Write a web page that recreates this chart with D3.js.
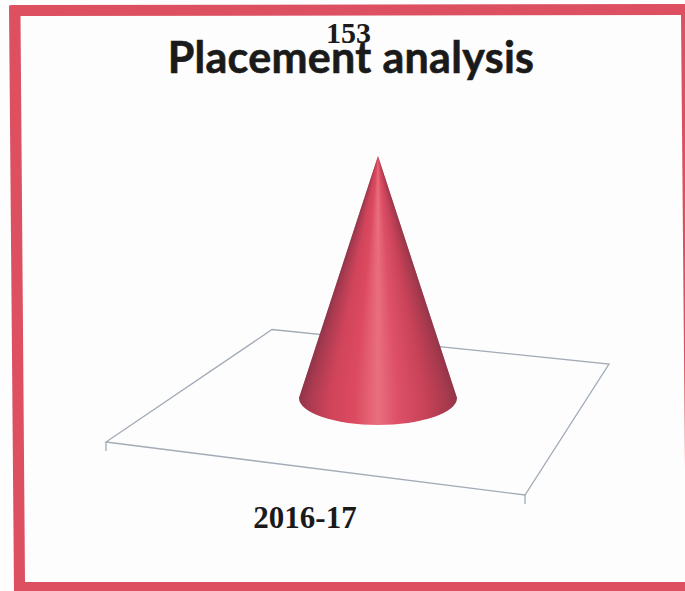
<!DOCTYPE html>
<html>
<head>
<meta charset="utf-8">
<script src="https://cdn.jsdelivr.net/npm/d3@7"></script>
<style>
  html, body { margin: 0; padding: 0; background: #fff; }
  svg { display: block; }
</style>
</head>
<body>
<svg id="chart" width="685" height="591"></svg>
<script>
var categories = ["2016-17"];
var values = [153];
var chartTitle = "Placement analysis";

var svg = d3.select("#chart");
var defs = svg.append("defs");

// dark edges, pale streak down the middle
var grad = defs.append("linearGradient").attr("id", "coneFill");
[[0, "#8f3448"], [0.06, "#a83a50"], [0.2, "#d0445a"], [0.35, "#dc4a60"], [0.5, "#e96f7e"], [0.62, "#de5168"], [0.8, "#c84258"], [0.93, "#a93a4e"], [1, "#923548"]]
  .forEach(function(s) {
    grad.append("stop").attr("offset", s[0]).attr("stop-color", s[1]);
  });

svg.append("rect")
  .attr("width", 685).attr("height", 591).attr("fill", "#fdfdfd");

// the border is a bit skewed in the scan, so draw it as a ring and not a rect
svg.append("path")
  .attr("d", "M9,6Q9,5 12,5L685,4L685,591L14,591Z M20.5,16L681,15L686,582L25,582Z")
  .attr("fill", "#dc5062")
  .attr("fill-rule", "evenodd");

// floor of the 3d plot: front left, front right, back right, back left
var floorCorners = [[106, 442], [525, 495], [609, 364], [272, 329.5]];
var frameColor = "#a2abb6";

svg.append("path")
  .attr("d", d3.line().curve(d3.curveLinearClosed)(floorCorners))
  .attr("fill", "none")
  .attr("stroke", frameColor)
  .attr("stroke-width", 1.3);

// ticks on the two front corners
floorCorners.slice(0, 2).forEach(function(p) {
  svg.append("line")
    .attr("x1", p[0]).attr("y1", p[1])
    .attr("x2", p[0]).attr("y2", p[1] + 9)
    .attr("stroke", frameColor)
    .attr("stroke-width", 1.3);
});

// cone
var xScale = d3.scaleBand().domain(categories).range([299, 457]);
var baseY = 398;
var yScale = d3.scaleLinear().domain([0, 153]).range([baseY, 156]);
var ry = 27;

categories.forEach(function(c, i) {
  var rx = xScale.bandwidth() / 2;
  var cx = xScale(c) + rx;
  var apexY = yScale(values[i]);

  // rows from the tip down, each has its own gradient so the shading narrows to the tip
  d3.range(apexY, baseY).forEach(function(y) {
    var w0 = rx * (y - apexY) / (baseY - apexY);
    var yEnd = Math.min(y + 1.6, baseY);
    var w1 = rx * (yEnd - apexY) / (baseY - apexY);
    svg.append("path")
      .attr("d", d3.line()([[cx - w0, y], [cx + w0 + 0.01, y], [cx + w1, yEnd], [cx - w1, yEnd]]) + "Z")
      .attr("fill", "url(#coneFill)");
  });

  svg.append("path")
    .attr("d", "M" + (cx - rx) + "," + (baseY - 0.5) + "L" + (cx + rx) + "," + (baseY - 0.5) +
      "L" + (cx + rx) + "," + baseY +
      "A" + rx + "," + ry + " 0 0 1 " + (cx - rx) + "," + baseY + "Z")
    .attr("fill", "url(#coneFill)");

  svg.append("text")
    .attr("x", 305).attr("y", 528)
    .attr("text-anchor", "middle")
    .attr("font-family", "Liberation Serif")
    .attr("font-weight", "bold")
    .attr("font-size", 31)
    .attr("fill", "#1a1a1a")
    .text(c);

  svg.append("text")
    .attr("x", 348.5).attr("y", 43)
    .attr("text-anchor", "middle")
    .attr("font-family", "Liberation Serif")
    .attr("font-weight", "bold")
    .attr("font-size", 30)
    .attr("fill", "#1a1a1a")
    .text(values[i]);
});

svg.append("text")
  .attr("x", 351).attr("y", 72.5)
  .attr("text-anchor", "middle")
  .attr("font-family", "Lato")
  .attr("font-weight", "bold")
  .attr("font-size", 43)
  .attr("letter-spacing", 0.3)
  .attr("fill", "#1a1a1a")
  .attr("stroke", "#1a1a1a")
  .attr("stroke-width", 0.6)
  .text(chartTitle);
</script>
</body>
</html>
